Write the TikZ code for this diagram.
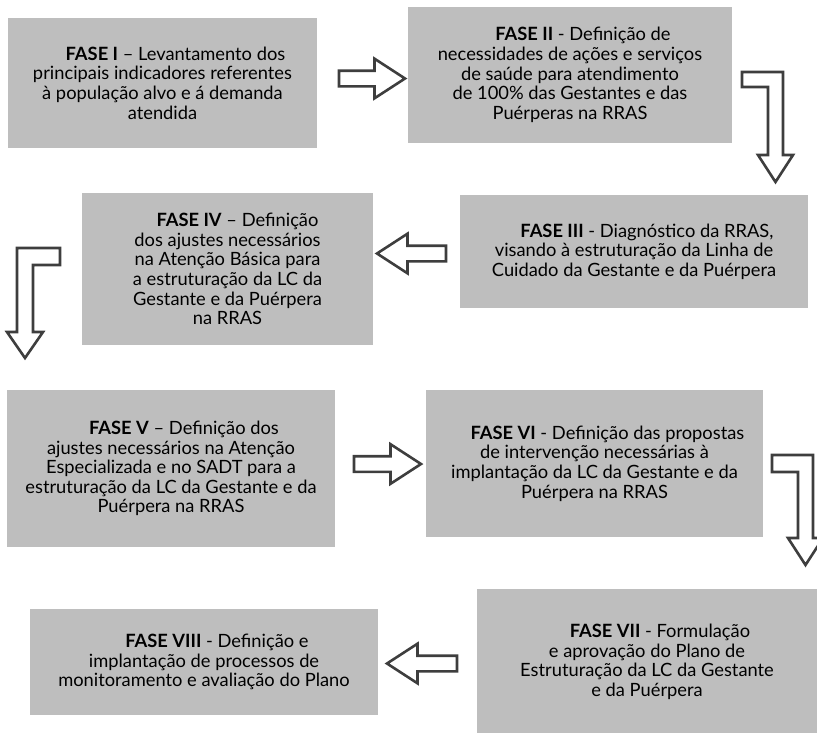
\documentclass[tikz,border=0pt]{standalone}
\usepackage{fontspec}
\setmainfont{Lato}
\usetikzlibrary{shapes.arrows}
\definecolor{boxgray}{RGB}{190,190,190}
\definecolor{arrowgray}{RGB}{62,62,62}

\begin{document}
\begin{tikzpicture}[x=1pt, y=-1pt,
        fase/.style={fill=boxgray, align=center, inner sep=0pt,
                font=\fontsize{18.3}{19.6}\selectfont},
        blockarrow/.style={single arrow, draw=arrowgray, fill=white, line width=2.6pt,
                inner xsep=0pt, inner ysep=6.5pt, single arrow head extend=12pt,
                single arrow tip angle=66},
        bentarrow/.style={draw=arrowgray, fill=white, line width=2.6pt, line join=miter}
    ]
    \useasboundingbox (0,0) rectangle (817,732);

    % fases
    \node[fase, minimum width=309pt, minimum height=130pt] (f1) at (162.5,83)
        {\hspace*{26pt}\textbf{FASE I} – Levantamento dos\\principais indicadores referentes\\à população alvo e á demanda\\atendida};
    \node[fase, minimum width=324pt, minimum height=136pt] (f2) at (570,75)
        {\hspace*{26pt}\textbf{FASE II} - Definição de\\necessidades de ações e serviços\\de saúde para atendimento\\de 100\% das Gestantes e das\\Puérperas na RRAS};
    \node[fase, minimum width=348pt, minimum height=113pt] (f3) at (634,251.5)
        {\hspace*{26pt}\textbf{FASE III} - Diagnóstico da RRAS,\\visando à estruturação da Linha de\\Cuidado da Gestante e da Puérpera};
    \node[fase, minimum width=291pt, minimum height=152pt] (f4) at (227.5,269)
        {\hspace*{20pt}\textbf{FASE IV} – Definição\\dos ajustes necessários\\na Atenção Básica para\\a estruturação da LC da\\Gestante e da Puérpera\\na RRAS};
    \node[fase, minimum width=328pt, minimum height=157pt] (f5) at (171,468.5)
        {\hspace*{26pt}\textbf{FASE V} – Definição dos\\ajustes necessários na Atenção\\Especializada e no SADT para a\\estruturação da LC da Gestante e da\\Puérpera na RRAS};
    \node[fase, minimum width=337pt, minimum height=147pt] (f6) at (594.5,463.5)
        {\hspace*{26pt}\textbf{FASE VI} - Definição das propostas\\de intervenção necessárias à\\implantação da LC da Gestante e da\\Puérpera na RRAS};
    \node[fase, minimum width=340pt, minimum height=146pt] (f7) at (647,662)
        {\hspace*{26pt}\textbf{FASE VII} - Formulação\\e aprovação do Plano de\\Estruturação da LC da Gestante\\e da Puérpera};
    \node[fase, minimum width=348pt, minimum height=106pt] (f8) at (204,662)
        {\hspace*{26pt}\textbf{FASE VIII} - Definição e\\implantação de processos de\\monitoramento e avaliação do Plano};

    % setas retas
    \node[blockarrow, minimum height=66pt] (a12) at (366,78.5) {};
    \node[blockarrow, minimum height=69pt, shape border rotate=180] (a34) at (417.5,253.5) {};
    \node[blockarrow, minimum height=67pt] (a56) at (381.5,464) {};
    \node[blockarrow, minimum height=70pt, shape border rotate=180] (a78) at (428,663.5) {};

    % setas dobradas
    \draw[bentarrow] (742,72) -- (783,72) -- (783,155) -- (793,155) -- (775.5,182)
        -- (758,155) -- (768,155) -- (768,87) -- (742,87) -- cycle;
    \draw[bentarrow] (17,248) -- (60,248) -- (60,265) -- (33,265) -- (33,332)
        -- (43,332) -- (25,358) -- (7,332) -- (17,332) -- cycle;
    \draw[bentarrow] (772,455) -- (813,455) -- (813,538) -- (823,538) -- (805.5,565)
        -- (788,538) -- (798,538) -- (798,472) -- (772,472) -- cycle;
\end{tikzpicture}
\end{document}
